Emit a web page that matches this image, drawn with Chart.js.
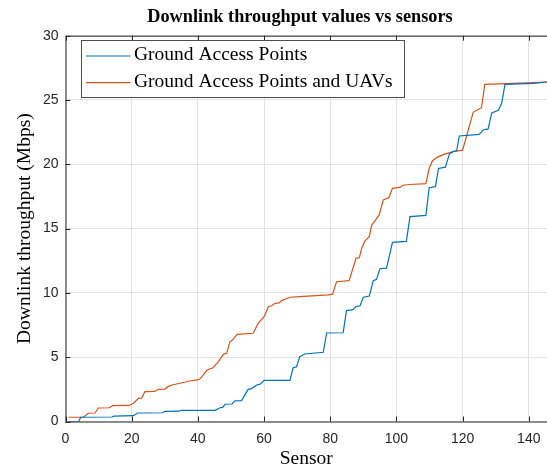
<!DOCTYPE html>
<html>
<head>
<meta charset="utf-8">
<script src="https://cdn.jsdelivr.net/npm/chart.js@4.4.1/dist/chart.umd.min.js"></script>
<style>
  html, body { margin: 0; padding: 0; background: #fff; }
  #wrap { width: 547px; height: 468px; position: relative; }
</style>
</head>
<body>
<div id="wrap"><canvas id="c" width="547" height="468"></canvas></div>
<script>
// Data (sensor index, downlink throughput in Mbps)
const groundX = [1,4,4.6,14,14.6,20.5,21.8,29.3,30,34.3,35,45.2,46.7,47.5,48.2,50.3,51.2,53.2,55.2,56.2,57.8,58.8,60,67.8,68.8,69.8,70.8,72.3,77.9,78.9,83.9,84.9,86.9,87.8,89,90,91.8,93,94,95,97,98.8,103,104.1,108.9,109.9,111.8,112.7,114.8,116,117.2,118.2,119,125,126.2,127.7,128.8,130.8,131.8,132.8,141.4,145.5];
const groundY = [0,0,0.33,0.35,0.42,0.45,0.66,0.68,0.79,0.8,0.87,0.87,1.07,1.1,1.34,1.36,1.6,1.62,2.5,2.56,2.84,2.9,3.2,3.2,4.18,4.26,5.04,5.25,5.38,6.88,6.9,8.62,8.7,8.93,9.0,9.66,9.76,10.95,11.05,11.88,11.93,13.93,14.0,15.93,16.03,18.18,18.26,19.68,19.78,20.8,21.0,21.05,22.2,22.33,22.67,22.75,24.0,24.2,24.74,26.22,26.3,26.4];
const uavX = [1,5.4,6.9,8.9,9.9,13.2,14.3,19.3,20.7,22,23,24,27,28,30,31,32.5,36,37,39.8,40.6,41.6,42.8,44.6,46.2,47.7,48.7,49.7,50.5,51.9,56.7,58.2,60,61.3,62.3,63.3,64.6,65.3,67.8,70.8,79.4,80.7,81.9,85.7,86.7,87.8,88.8,89.5,90.5,91.8,92.5,93.5,94.8,96,97.7,98.8,101,102,104,108.9,109.9,110.9,112.3,114.1,117.2,120,121.2,123.2,125.7,126.7,135,145.5];
const uavY = [0.33,0.33,0.64,0.66,1.05,1.07,1.23,1.25,1.46,1.8,1.82,2.32,2.34,2.5,2.52,2.71,2.86,3.05,3.13,3.23,3.3,3.6,4.0,4.18,4.65,5.22,5.3,6.2,6.35,6.78,6.86,7.63,8.15,8.93,9.0,9.19,9.22,9.4,9.66,9.71,9.84,9.9,10.87,10.95,11.78,12.69,12.75,13.47,14.04,14.37,15.28,15.6,16.06,17.22,17.4,18.13,18.2,18.37,18.43,18.5,19.69,20.28,20.54,20.75,20.98,21.1,22.2,24.04,24.4,26.22,26.3,26.4];
const seriesNames = ['Ground Access Points', 'Ground Access Points and UAVs'];
const chartTitle = 'Downlink throughput values vs sensors';
const xTicks = [0,20,40,60,80,100,120,140];
const yTicks = [0,5,10,15,20,25,30];

const axisColor = '#262626';
const tickFont = { family: 'Liberation Sans, Arial, sans-serif', size: 14 };
const serif = 'Liberation Serif, DejaVu Serif, serif';

function pts(xs, ys) { return xs.map((x, i) => ({ x: x, y: ys[i] })); }

const frame = {
  id: 'frame',
  afterDatasetsDraw(chart) {
    const { ctx, chartArea: a, scales } = chart;
    ctx.save();
    ctx.strokeStyle = axisColor;
    ctx.lineWidth = 1;
    ctx.beginPath();
    ctx.moveTo(a.left + 0.5, a.bottom + 0.5); ctx.lineTo(a.left + 0.5, a.top + 0.5); ctx.lineTo(a.right + 2, a.top + 0.5);
    ctx.moveTo(a.left, a.bottom + 0.5); ctx.lineTo(a.right + 2, a.bottom + 0.5);
    const tl = 5;
    xTicks.forEach(v => {
      const px = Math.round(scales.x.getPixelForValue(v)) + 0.5;
      ctx.moveTo(px, a.bottom); ctx.lineTo(px, a.bottom - tl);
      ctx.moveTo(px, a.top); ctx.lineTo(px, a.top + tl);
    });
    yTicks.forEach(v => {
      const py = Math.round(scales.y.getPixelForValue(v)) + 0.5;
      ctx.moveTo(a.left, py); ctx.lineTo(a.left + tl, py);
    });
    ctx.stroke();

    // title
    ctx.fillStyle = '#000';
    ctx.font = 'bold 18.3px ' + serif;
    ctx.textAlign = 'center';
    ctx.textBaseline = 'middle';
    ctx.fillText(chartTitle, 300, 17);

    // legend
    const lx = 81.5, ly = 40.5, lw = 323, lh = 57;
    ctx.fillStyle = '#fff';
    ctx.fillRect(lx, ly, lw, lh);
    ctx.strokeStyle = '#4d4d4d';
    ctx.strokeRect(lx, ly, lw, lh);
    ctx.font = '19.5px ' + serif;
    ctx.textBaseline = 'middle';
    ctx.textAlign = 'left';
    chart.data.datasets.forEach((ds, i) => {
      const yy = 56 + i * 26.7;
      ctx.strokeStyle = ds.borderColor;
      ctx.lineWidth = 1.2;
      ctx.beginPath(); ctx.moveTo(86, yy); ctx.lineTo(130.5, yy); ctx.stroke();
      ctx.fillStyle = '#000';
      ctx.fillText(ds.label, 134, yy - 1);
    });
    ctx.restore();
  }
};

new Chart(document.getElementById('c'), {
  type: 'line',
  data: {
    datasets: [
      { label: seriesNames[0], data: pts(groundX, groundY), borderColor: '#0072BD', borderWidth: 1.2, pointRadius: 0, tension: 0, fill: false },
      { label: seriesNames[1], data: pts(uavX, uavY), borderColor: '#D95319', borderWidth: 1.2, pointRadius: 0, tension: 0, fill: false }
    ]
  },
  options: {
    responsive: false,
    animation: false,
    devicePixelRatio: 1,
    layout: { padding: { left: 0, right: 0, top: 35.7, bottom: 0 } },
    plugins: {
      legend: { display: false },
      tooltip: { enabled: false },
      title: { display: false }
    },
    scales: {
      x: {
        type: 'linear', min: 0, max: 145.5,
        afterBuildTicks: s => { s.ticks = xTicks.map(v => ({ value: v })); },
        afterFit: s => { s.height = 46.5; s.paddingRight = 0; s.paddingLeft = 0; },
        ticks: { color: axisColor, font: tickFont, padding: 9, maxRotation: 0 },
        grid: { color: '#e3e3e3', drawTicks: false },
        border: { display: false },
        title: { display: true, text: 'Sensor', color: '#000', font: { family: serif, size: 19.5, lineHeight: 1 }, padding: { top: 0, bottom: -1 } }
      },
      y: {
        min: 0, max: 30,
        afterBuildTicks: s => { s.ticks = yTicks.map(v => ({ value: v })); },
        afterFit: s => { s.width = 65.5; },
        ticks: { color: axisColor, font: tickFont, padding: 7 },
        grid: { color: '#e3e3e3', drawTicks: false },
        border: { display: false },
        title: { display: true, text: 'Downlink throughput (Mbps)', color: '#000', font: { family: serif, size: 19.5, lineHeight: 1 }, padding: { top: 15, bottom: 0 } }
      }
    }
  },
  plugins: [frame]
});
</script>
</body>
</html>
